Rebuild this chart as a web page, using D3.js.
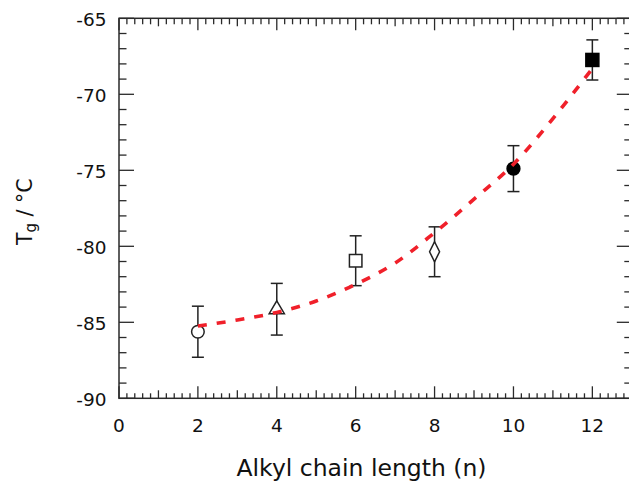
<!DOCTYPE html>
<html>
<head>
<meta charset="utf-8">
<script src="https://cdn.jsdelivr.net/npm/d3@7"></script>
<style>
  html, body { margin: 0; padding: 0; background: #fff; }
  svg { display: block; }
  text { font-family: "DejaVu Sans", Verdana, sans-serif; fill: #111; }
</style>
</head>
<body>
<div id="chart"></div>
<script>
// ---- data ----
const chainLength = [2, 4, 6, 8, 10, 12];
const tgValues   = [-85.62, -84.14, -80.95, -80.36, -74.89, -67.74];
const tgErrors   = [1.68, 1.70, 1.64, 1.64, 1.51, 1.32];
const markerTypes = ["circleOpen", "triangleOpen", "squareOpen", "diamondOpen", "circleFilled", "squareFilled"];

const fitX = [2, 3, 4, 5, 6, 7, 8, 9, 10, 11, 12];
const fitY = [-85.24, -84.85, -84.35, -83.6, -82.5, -81.1, -79.1, -76.9, -74.6, -71.6, -68.3];

const xTicks = [0, 2, 4, 6, 8, 10, 12];
const yTicks = [-65, -70, -75, -80, -85, -90];

// ---- layout ----
const W = 629, H = 483;
const mLeft = 119, mRight = 631.8, mTop = 18.3, mBottom = 398.3;

const svg = d3.select("#chart").append("svg")
  .attr("width", W).attr("height", H);

svg.append("rect").attr("width", W).attr("height", H).attr("fill", "#fff");

const x = d3.scaleLinear().domain([0, 13]).range([mLeft, mRight]);
const y = d3.scaleLinear().domain([-90, -65]).range([mBottom, mTop]);

const axisColor = "#2a2a2a";

// ---- frame ----
svg.append("rect")
  .attr("x", mLeft).attr("y", mTop)
  .attr("width", mRight - mLeft).attr("height", mBottom - mTop)
  .attr("fill", "none").attr("stroke", axisColor).attr("stroke-width", 1.5);

// ---- ticks ----
const xMinor = d3.range(0, 13.001, 0.2).map(v => +v.toFixed(1));
function xLen(v) {
  if (Math.abs(v % 2) < 1e-6) return 12;
  if (Math.abs(v % 1) < 1e-6) return 8;
  return 5;
}
const tg = svg.append("g").attr("stroke", axisColor).attr("stroke-width", 1.3);
xMinor.forEach(v => {
  const L = xLen(v);
  tg.append("line").attr("x1", x(v)).attr("x2", x(v)).attr("y1", mBottom).attr("y2", mBottom - L);
  tg.append("line").attr("x1", x(v)).attr("x2", x(v)).attr("y1", mTop).attr("y2", mTop + L + (L === 5 ? 1 : 0));
});
const yMinor = d3.range(-90, -64.999, 1);
yMinor.forEach(v => {
  const L = (Math.abs(v % 5) < 1e-6) ? 15 : 7.5;
  tg.append("line").attr("x1", mLeft).attr("x2", mLeft + L).attr("y1", y(v)).attr("y2", y(v));
  tg.append("line").attr("x1", mRight).attr("x2", mRight - L).attr("y1", y(v)).attr("y2", y(v));
});

// ---- tick labels ----
svg.append("g").selectAll("text").data(xTicks).join("text")
  .attr("x", d => x(d)).attr("y", 431.5)
  .attr("text-anchor", "middle")
  .attr("font-size", 18.5)
  .text(d => d);

svg.append("g").selectAll("text").data(yTicks).join("text")
  .attr("x", 106.5).attr("y", d => y(d) + 7.5)
  .attr("text-anchor", "end")
  .attr("font-size", 18.5)
  .text(d => d);

// ---- axis titles ----
svg.append("text")
  .attr("x", 361.5).attr("y", 476)
  .attr("text-anchor", "middle")
  .attr("font-size", 23.5)
  .text("Alkyl chain length (n)");

const yt = svg.append("text")
  .attr("transform", "translate(31.7,211.7) rotate(-90)")
  .attr("text-anchor", "middle")
  .attr("font-size", 20.5);
yt.append("tspan").text("T");
yt.append("tspan").attr("font-size", 15).attr("dy", 4).text("g");
yt.append("tspan").attr("dy", -4).text(" / \u00B0C");

// ---- error bars ----
const cap = 6;
const eb = svg.append("g").attr("stroke", "#222").attr("stroke-width", 1.5).attr("fill", "none");
chainLength.forEach((n, i) => {
  const cx = x(n), y1 = y(tgValues[i] + tgErrors[i]), y2 = y(tgValues[i] - tgErrors[i]);
  eb.append("line").attr("x1", cx).attr("x2", cx).attr("y1", y1).attr("y2", y2);
  eb.append("line").attr("x1", cx - cap).attr("x2", cx + cap).attr("y1", y1).attr("y2", y1);
  eb.append("line").attr("x1", cx - cap).attr("x2", cx + cap).attr("y1", y2).attr("y2", y2);
});

// ---- markers ----
const mk = svg.append("g");
chainLength.forEach((n, i) => {
  const cx = x(n), cy = y(tgValues[i]);
  const t = markerTypes[i];
  const open = t.endsWith("Open");
  const style = s => s.attr("fill", open ? "#fff" : "#000")
                      .attr("stroke", open ? "#222" : "#000")
                      .attr("stroke-width", 1.5);
  if (t.startsWith("circle")) {
    style(mk.append("circle").attr("cx", cx).attr("cy", cy).attr("r", open ? 6.3 : 6.4));
  } else if (t.startsWith("square")) {
    const s = open ? 12.5 : 13;
    style(mk.append("rect").attr("x", cx - s / 2).attr("y", cy - s / 2).attr("width", s).attr("height", s));
  } else if (t.startsWith("triangle")) {
    const hw = 7.6, hTop = 8.4, hBot = 4.4;
    style(mk.append("path").attr("d",
      `M${cx},${cy - hTop}L${cx + hw},${cy + hBot}L${cx - hw},${cy + hBot}Z`));
  } else if (t.startsWith("diamond")) {
    const hw = 5, hh = 10;
    style(mk.append("path").attr("d",
      `M${cx},${cy - hh}L${cx + hw},${cy}L${cx},${cy + hh}L${cx - hw},${cy}Z`));
  }
});

// ---- fit curve ----
const line = d3.line()
  .x((d, i) => x(fitX[i]))
  .y(d => y(d))
  .curve(d3.curveMonotoneX);
svg.append("path")
  .attr("d", line(fitY))
  .attr("fill", "none")
  .attr("stroke", "#f0202a")
  .attr("stroke-width", 3.6)
  .attr("stroke-dasharray", "9,10");
</script>
</body>
</html>
